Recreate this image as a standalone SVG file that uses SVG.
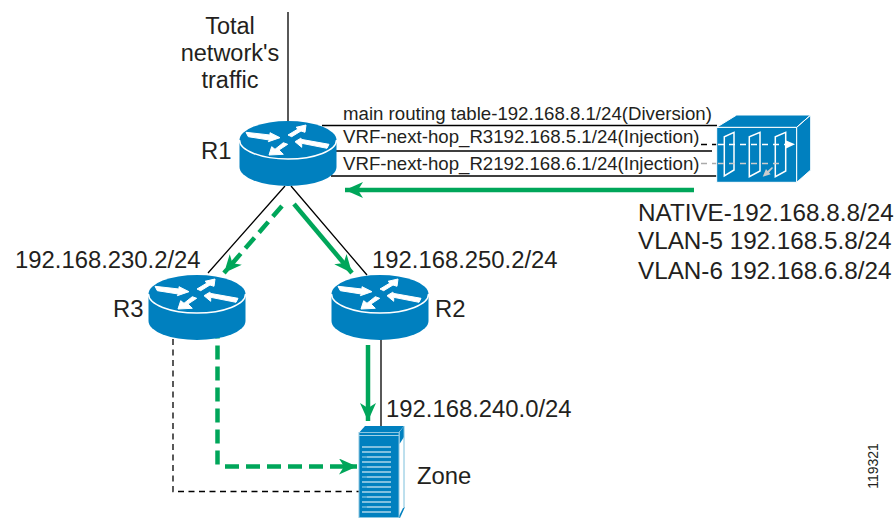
<svg xmlns="http://www.w3.org/2000/svg" width="896" height="519" viewBox="0 0 896 519">
<style>
text{font-family:"Liberation Sans",Arial,sans-serif;fill:#231f20}
.b{font-size:23.850px}.t{font-size:23.500px}.n{font-size:24.250px}.s{font-size:18.650px}
.k{fill:none;stroke:#000;stroke-width:1.300}
.d{stroke-dasharray:6 4.500}
.g{fill:none;stroke:#00a65a;stroke-width:4.500}
.gd{stroke-dasharray:14 7}
.blue{fill:#0080bf}
.w{fill:none;stroke:#fff;stroke-width:1.500}
</style>
<defs>
<marker id="ah" markerUnits="userSpaceOnUse" markerWidth="20" markerHeight="18" refX="18" refY="8" orient="auto"><path d="M0 0L18 8L0 16L5 8Z" fill="#00a65a"/></marker>
<g id="router">
<path class="blue" d="M-48.500 0A48.500 19 0 0 1 48.500 0V27A48.500 19 0 0 1 -48.500 27Z"/>
<path class="w" d="M-48.500 0A48.500 19 0 0 0 48.500 0"/>
<path fill="#fff" stroke="#fff" stroke-width="1" d="M-42-7.700L-39.700-3.300L-18.700 0L-19.700 1.700L-8-2.300L-18-7.300L-18-5ZM18-15L8-12.700L10-11L0-5L3.700-3.300L13-9L17-7.700ZM7 1.700L12.700-1.700L14-.5L41 4.300L39 8.300L13.700 3.300L13.700 7.300ZM-19 15L-4.700 14.300L-9 10L-.3 4.300L-4.700 2.700L-13 9.300L-16.300 6.700Z"/>
</g>
</defs>
<g id="connectors">
<path class="k" d="M288 12V122M322 125.500H717M331 151H712M331 176H717M285 186L208 273M291 186L367 275M381 339V426"/>
<path class="k d" d="M173 339V491.500H359"/>
<path fill="none" stroke="#000" stroke-width="1.500" stroke-dasharray="6 5" d="M701 144.500H718"/>
<path fill="none" stroke="#aaa" stroke-width="1.500" stroke-dasharray="6 5" d="M701 163.500H718"/>
<path class="g" d="M694 190H345" marker-end="url(#ah)"/>
<path class="g gd" d="M282 206L224 273" marker-end="url(#ah)"/>
<path class="g" d="M294 204L352 273" marker-end="url(#ah)"/>
<path class="g" d="M368 345V421" marker-end="url(#ah)"/>
<path class="g gd" stroke-dashoffset="8.500" d="M217.500 333V466.500"/>
<path class="g gd" d="M225 466.500H357" marker-end="url(#ah)"/>
</g>
<g id="R1"><use href="#router" x="288" y="140"/><text class="b" x="201" y="159">R1</text></g>
<g id="R3"><use href="#router" x="197" y="294"/><text class="b" x="113" y="317">R3</text><text class="b" x="15" y="268">192.168.230.2/24</text></g>
<g id="R2"><use href="#router" x="380" y="294"/><text class="b" x="435" y="317">R2</text><text class="b" x="372" y="268">192.168.250.2/24</text></g>
<g id="switch">
<path class="blue" stroke="#fff" d="M716.700 127.300H796.700V182.300H716.700Z"/>
<path class="blue" stroke="#fff" d="M716.700 127.300L736.700 115H810.700L796.700 127.300ZM796.700 127.300L810.700 115V170L796.700 182.300Z"/>
<path class="w" d="M724.300 176V136.700L734 132.300V170ZM749.300 176.700V136.700L760 132.300V171ZM775.300 176.700V136.700L785.700 132.300V171Z"/>
<path fill="none" stroke="#fff" stroke-width="1.500" stroke-dasharray="6 5" d="M718 144.500H785"/>
<path fill="none" stroke="#ccc" stroke-width="1.500" stroke-dasharray="6 5" d="M718 163.500H781"/>
<path fill="#fff" d="M785 140L795 144.300L785 149Z"/>
<path fill="#ccc" d="M762.700 176.700L766 169L767.500 171L772 167L773 168L769 172.500L770.700 174.300Z"/>
</g>
<g id="zone">
<path class="blue" d="M359 432.700L365 426H404L399 432Z"/>
<path class="blue" d="M399.500 432L404 426V437L399.500 444Z"/>
<path fill="#0080bf" d="M403 508L405 507L400 518L398 518Z"/>
<path fill="none" stroke="#7cc0dc" d="M404 426V507"/>
<rect class="blue" x="359" y="432.500" width="40" height="85" stroke="#8cc6e0" stroke-width="1"/>
<path stroke="#9fd2e8" stroke-width="1" d="M359 435.500H399"/>
<g stroke-width="1.200">
<path stroke="#fff" d="M362 447H391M362 452H391M367 457H391M362 462H391M367 467H391M362 472H391M367 477H391M362 482H391M367 487H391M362 492H391M367 497H391M362 502H391M367 507H391M362 512H391"/>
<path stroke="#a6d5ea" d="M362 457H367M362 467H367M362 477H367M362 487H367M362 497H367M362 507H367"/>
</g>
<text class="b" x="417" y="484">Zone</text>
</g>
<g id="labels">
<text class="t" text-anchor="middle" x="230" y="34">Total</text>
<text class="t" text-anchor="middle" x="230" y="61">network's</text>
<text class="t" text-anchor="middle" x="230" y="88">traffic</text>
<text class="s" x="343" y="120">main routing table-192.168.8.1/24(Diversion)</text>
<text class="s" x="343" y="143">VRF-next-hop_R3192.168.5.1/24(Injection)</text>
<text class="s" x="343" y="170">VRF-next-hop_R2192.168.6.1/24(Injection)</text>
<text class="n" x="638" y="221">NATIVE-192.168.8.8/24</text>
<text class="n" x="638" y="249">VLAN-5 192.168.5.8/24</text>
<text class="n" x="638" y="279">VLAN-6 192.168.6.8/24</text>
<text class="b" x="386" y="417">192.168.240.0/24</text>
<text font-size="14" text-anchor="middle" transform="translate(878 466) rotate(-90)">119321</text>
</g>
</svg>
